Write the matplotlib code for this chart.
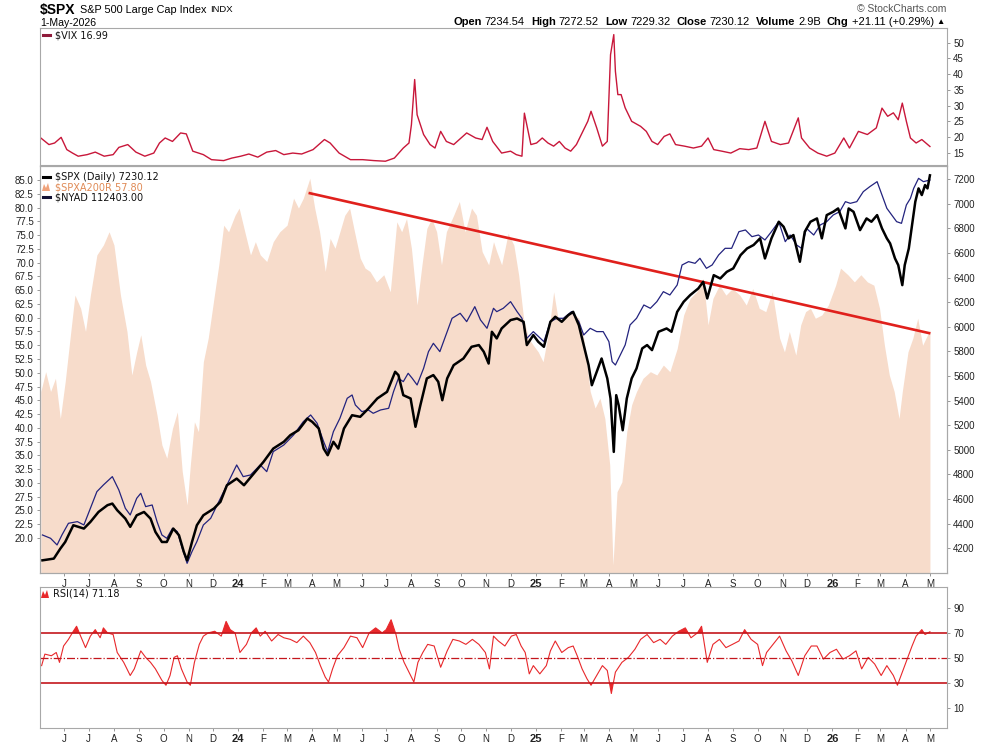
import matplotlib
matplotlib.use("Agg")
import matplotlib.pyplot as plt
import matplotlib.ticker as mticker
from matplotlib.lines import Line2D
from matplotlib.patches import Polygon
import numpy as np
import pandas as pd

# ---- data ----
spx_dates = ["2023-05-05", "2023-05-19", "2023-05-27", "2023-06-02", "2023-06-12", "2023-06-25", "2023-07-03",
             "2023-07-13", "2023-07-24", "2023-07-30", "2023-08-05", "2023-08-15", "2023-08-21", "2023-08-29",
             "2023-09-07", "2023-09-15", "2023-09-21", "2023-09-29", "2023-10-05", "2023-10-13", "2023-10-20",
             "2023-10-26", "2023-10-30", "2023-11-05", "2023-11-11", "2023-11-19", "2023-12-02", "2023-12-10",
             "2023-12-18", "2023-12-30", "2024-01-08", "2024-01-20", "2024-02-01", "2024-02-13", "2024-02-26",
             "2024-03-05", "2024-03-15", "2024-03-26", "2024-04-01", "2024-04-09", "2024-04-15", "2024-04-20",
             "2024-04-27", "2024-05-03", "2024-05-10", "2024-05-20", "2024-05-30", "2024-06-09", "2024-06-20",
             "2024-07-02", "2024-07-12", "2024-07-16", "2024-07-22", "2024-07-31", "2024-08-06", "2024-08-12",
             "2024-08-20", "2024-08-28", "2024-09-03", "2024-09-08", "2024-09-14", "2024-09-22", "2024-10-04",
             "2024-10-14", "2024-10-23", "2024-10-29", "2024-11-04", "2024-11-08", "2024-11-14", "2024-11-20",
             "2024-12-01", "2024-12-09", "2024-12-17", "2024-12-21", "2024-12-29", "2025-01-04", "2025-01-11",
             "2025-01-19", "2025-01-25", "2025-02-02", "2025-02-10", "2025-02-16", "2025-02-23", "2025-03-01",
             "2025-03-07", "2025-03-11", "2025-03-17", "2025-03-23", "2025-03-30", "2025-04-03", "2025-04-07",
             "2025-04-10", "2025-04-13", "2025-04-18", "2025-04-23", "2025-04-29", "2025-05-05", "2025-05-12",
             "2025-05-18", "2025-05-24", "2025-06-01", "2025-06-11", "2025-06-17", "2025-06-24", "2025-07-02",
             "2025-07-10", "2025-07-20", "2025-07-26", "2025-07-31", "2025-08-08", "2025-08-16", "2025-08-24",
             "2025-09-01", "2025-09-10", "2025-09-18", "2025-09-26", "2025-10-04", "2025-10-10", "2025-10-18",
             "2025-10-27", "2025-11-02", "2025-11-08", "2025-11-14", "2025-11-22", "2025-11-28", "2025-12-05",
             "2025-12-13", "2025-12-19", "2025-12-25", "2026-01-02", "2026-01-08", "2026-01-17", "2026-01-21",
             "2026-01-27", "2026-02-04", "2026-02-12", "2026-02-18", "2026-02-25", "2026-03-03", "2026-03-09",
             "2026-03-13", "2026-03-19", "2026-03-23", "2026-03-28", "2026-03-31", "2026-04-05", "2026-04-09",
             "2026-04-13", "2026-04-17", "2026-04-21", "2026-04-25", "2026-04-28", "2026-05-01"]
spx_close = [4102, 4116, 4197, 4251, 4387, 4360, 4414, 4495, 4550, 4563, 4509, 4441, 4374, 4468,
             4495, 4441, 4333, 4251, 4251, 4360, 4306, 4170, 4102, 4251, 4387, 4468, 4523, 4577,
             4712, 4766, 4712, 4807, 4902, 5010, 5065, 5119, 5159, 5254, 5227, 5173, 5010, 4956,
             5065, 5010, 5173, 5281, 5268, 5335, 5417, 5471, 5634, 5607, 5444, 5417, 5187, 5362,
             5580, 5607, 5553, 5403, 5580, 5688, 5742, 5837, 5851, 5797, 5701, 5959, 5905, 5986,
             6054, 6067, 6040, 5851, 5932, 5878, 5837, 6040, 6081, 6040, 6094, 6121, 6013, 5851,
             5688, 5525, 5634, 5742, 5580, 5417, 4983, 5444, 5362, 5159, 5417, 5580, 5661, 5824,
             5851, 5810, 5959, 5986, 5959, 6121, 6203, 6257, 6311, 6365, 6230, 6419, 6392, 6446,
             6474, 6582, 6636, 6664, 6718, 6555, 6718, 6853, 6812, 6718, 6745, 6528, 6772, 6853,
             6880, 6718, 6907, 6934, 6961, 6799, 6961, 6934, 6785, 6880, 6853, 6907, 6799, 6718,
             6677, 6555, 6501, 6338, 6501, 6636, 6826, 7016, 7124, 7070, 7151, 7124, 7230.12]

nyad_dates = ["2023-05-05", "2023-05-15", "2023-05-23", "2023-05-29", "2023-06-06", "2023-06-17", "2023-06-25",
              "2023-07-03", "2023-07-11", "2023-07-19", "2023-07-30", "2023-08-07", "2023-08-15", "2023-08-21",
              "2023-08-29", "2023-09-03", "2023-09-09", "2023-09-17", "2023-09-23", "2023-09-29", "2023-10-05",
              "2023-10-12", "2023-10-18", "2023-10-24", "2023-10-30", "2023-11-05", "2023-11-11", "2023-11-19",
              "2023-11-28", "2023-12-06", "2023-12-14", "2023-12-22", "2023-12-30", "2024-01-07", "2024-01-16",
              "2024-01-28", "2024-02-05", "2024-02-13", "2024-02-26", "2024-03-09", "2024-03-21", "2024-03-30",
              "2024-04-07", "2024-04-15", "2024-04-20", "2024-04-27", "2024-05-05", "2024-05-14", "2024-05-20",
              "2024-05-24", "2024-06-01", "2024-06-09", "2024-06-15", "2024-06-24", "2024-07-04", "2024-07-10",
              "2024-07-16", "2024-07-22", "2024-07-28", "2024-08-02", "2024-08-08", "2024-08-16", "2024-08-22",
              "2024-08-28", "2024-09-05", "2024-09-11", "2024-09-20", "2024-09-30", "2024-10-08", "2024-10-18",
              "2024-10-25", "2024-11-02", "2024-11-10", "2024-11-14", "2024-11-22", "2024-12-01", "2024-12-09",
              "2024-12-15", "2024-12-21", "2024-12-29", "2025-01-11", "2025-01-19", "2025-01-27", "2025-02-04",
              "2025-02-14", "2025-02-23", "2025-03-01", "2025-03-09", "2025-03-17", "2025-03-25", "2025-04-01",
              "2025-04-05", "2025-04-09", "2025-04-15", "2025-04-21", "2025-04-27", "2025-05-05", "2025-05-14",
              "2025-05-22", "2025-05-30", "2025-06-07", "2025-06-15", "2025-06-24", "2025-06-30", "2025-07-08",
              "2025-07-16", "2025-07-22", "2025-07-30", "2025-08-06", "2025-08-14", "2025-08-22", "2025-08-30",
              "2025-09-08", "2025-09-16", "2025-09-24", "2025-10-02", "2025-10-10", "2025-10-18", "2025-10-27",
              "2025-11-04", "2025-11-10", "2025-11-18", "2025-11-24", "2025-11-30", "2025-12-09", "2025-12-17",
              "2025-12-25", "2026-01-02", "2026-01-10", "2026-01-17", "2026-01-23", "2026-01-31", "2026-02-08",
              "2026-02-16", "2026-02-25", "2026-03-03", "2026-03-09", "2026-03-15", "2026-03-21", "2026-03-27",
              "2026-04-02", "2026-04-07", "2026-04-11", "2026-04-17", "2026-04-23", "2026-05-01"]
nyad_values = [76906, 76573, 75907, 76906, 78073, 78240, 77906, 79573, 81240, 81906, 82740, 81406, 79573, 78906,
               80573, 81073, 79740, 79906, 78240, 76906, 76573, 77573, 77240, 75573, 74073, 75240, 76240, 77906,
               78573, 79906, 81240, 82573, 83906, 82740, 82906, 83906, 83240, 85240, 85906, 86906, 88240, 88906,
               88073, 86240, 85240, 87240, 88573, 90573, 90906, 89906, 89240, 89406, 89073, 89406, 89573, 91240,
               92573, 92240, 93073, 92573, 91906, 93573, 95240, 96073, 95240, 96573, 98573, 99073, 98240, 99738,
               98406, 97573, 99573, 99238, 99573, 100238, 99238, 98573, 96573, 97240, 96240, 98240, 98573, 98573,
               99238, 98240, 96906, 97573, 97240, 97240, 96240, 94238, 93905, 94904, 95905, 97905, 98573, 99905,
               99573, 100238, 101238, 100904, 101904, 103904, 104238, 104071, 104571, 103571, 103904, 104904,
               105571, 105571, 107237, 107404, 106737, 106904, 106404, 107237, 108237, 106237, 106904, 105904,
               105571, 107570, 106904, 107904, 108237, 108903, 109237, 110237, 110070, 110237, 111237, 111737,
               112237, 110903, 109570, 108903, 108237, 108070, 109903, 110570, 111570, 112570, 112237, 112403]

breadth_dates = ["2023-05-03", "2023-05-09", "2023-05-15", "2023-05-21", "2023-05-27", "2023-06-02", "2023-06-08",
                 "2023-06-14", "2023-06-21", "2023-06-27", "2023-07-03", "2023-07-11", "2023-07-19", "2023-07-26",
                 "2023-08-01", "2023-08-09", "2023-08-17", "2023-08-23", "2023-08-29", "2023-09-03", "2023-09-09",
                 "2023-09-15", "2023-09-23", "2023-09-29", "2023-10-05", "2023-10-12", "2023-10-18", "2023-10-24",
                 "2023-10-30", "2023-11-03", "2023-11-08", "2023-11-13", "2023-11-19", "2023-11-25", "2023-12-02",
                 "2023-12-08", "2023-12-14", "2023-12-20", "2023-12-28", "2024-01-02", "2024-01-09", "2024-01-16",
                 "2024-01-22", "2024-01-28", "2024-02-05", "2024-02-13", "2024-02-21", "2024-03-01", "2024-03-09",
                 "2024-03-15", "2024-03-21", "2024-03-29", "2024-04-04", "2024-04-10", "2024-04-17", "2024-04-23",
                 "2024-04-29", "2024-05-05", "2024-05-11", "2024-05-17", "2024-05-23", "2024-05-30", "2024-06-05",
                 "2024-06-11", "2024-06-19", "2024-06-28", "2024-07-06", "2024-07-14", "2024-07-20", "2024-07-26",
                 "2024-08-01", "2024-08-08", "2024-08-14", "2024-08-20", "2024-08-26", "2024-09-01", "2024-09-07",
                 "2024-09-13", "2024-09-22", "2024-09-29", "2024-10-06", "2024-10-14", "2024-10-20", "2024-10-27",
                 "2024-11-04", "2024-11-10", "2024-11-14", "2024-11-20", "2024-11-28", "2024-12-05", "2024-12-11",
                 "2024-12-17", "2024-12-23", "2024-12-29", "2025-01-04", "2025-01-10", "2025-01-17", "2025-01-23",
                 "2025-01-29", "2025-02-06", "2025-02-14", "2025-02-23", "2025-03-01", "2025-03-09", "2025-03-15",
                 "2025-03-21", "2025-03-27", "2025-04-02", "2025-04-06", "2025-04-11", "2025-04-17", "2025-04-23",
                 "2025-04-29", "2025-05-05", "2025-05-13", "2025-05-22", "2025-05-30", "2025-06-07", "2025-06-15",
                 "2025-06-24", "2025-07-02", "2025-07-10", "2025-07-18", "2025-07-26", "2025-08-01", "2025-08-07",
                 "2025-08-15", "2025-08-23", "2025-08-31", "2025-09-09", "2025-09-17", "2025-09-25", "2025-10-03",
                 "2025-10-11", "2025-10-19", "2025-10-28", "2025-11-03", "2025-11-09", "2025-11-17", "2025-11-23",
                 "2025-11-29", "2025-12-05", "2025-12-11", "2025-12-19", "2025-12-27", "2026-01-05", "2026-01-11",
                 "2026-01-20", "2026-01-28", "2026-02-05", "2026-02-13", "2026-02-21", "2026-02-28", "2026-03-06",
                 "2026-03-12", "2026-03-18", "2026-03-24", "2026-03-28", "2026-04-04", "2026-04-10", "2026-04-16",
                 "2026-04-22", "2026-05-01"]
breadth_pct = [46.6, 50.2, 46.6, 49.0, 41.7, 48.4, 56.3, 64.1, 61.7, 57.5, 64.1, 71.4, 73.2, 75.6,
               73.2, 64.1, 57.5, 49.6, 53.8, 56.9, 51.4, 48.4, 42.3, 36.9, 34.5, 39.9, 42.9, 32.1,
               26.0, 33.3, 41.1, 39.3, 52.0, 56.3, 63.5, 69.6, 76.8, 75.6, 78.6, 79.9, 75.6, 71.4,
               73.8, 71.4, 70.2, 73.8, 75.6, 76.8, 81.7, 79.9, 81.7, 85.3, 79.9, 75.6, 68.4, 74.4,
               72.6, 75.6, 78.6, 79.9, 75.6, 70.8, 69.0, 68.4, 66.5, 67.8, 64.7, 77.4, 75.6, 78.0,
               72.6, 62.3, 69.6, 76.2, 78.0, 75.6, 69.6, 75.6, 78.6, 81.1, 75.6, 79.9, 78.6, 72.0,
               69.6, 73.8, 72.0, 69.6, 75.3, 73.2, 67.7, 59.9, 56.3, 55.0, 53.8, 52.0, 57.5, 64.7,
               59.3, 60.5, 61.1, 59.9, 56.3, 46.6, 43.6, 45.4, 41.7, 33.3, 15.1, 28.4, 30.2, 39.3,
               44.2, 46.6, 49.0, 50.2, 49.6, 51.4, 50.2, 54.4, 60.5, 63.5, 64.7, 67.1, 58.7, 63.5,
               65.9, 64.1, 65.3, 64.1, 62.3, 65.3, 61.7, 61.1, 64.7, 56.3, 53.8, 57.5, 53.2, 58.7,
               61.1, 61.7, 59.9, 60.5, 62.3, 65.9, 69.0, 67.8, 66.5, 67.8, 66.5, 65.9, 61.7, 55.0,
               49.6, 46.6, 41.7, 46.6, 53.8, 56.3, 59.9, 55.0, 57.8]

trend_dates = ["2024-03-29", "2026-04-30"]
trend_values = [82.6, 57.2]

vix_dates = ["2023-05-03", "2023-05-13", "2023-05-20", "2023-05-28", "2023-06-04", "2023-06-11", "2023-06-18",
             "2023-06-29", "2023-07-09", "2023-07-20", "2023-07-31", "2023-08-07", "2023-08-18", "2023-08-28",
             "2023-09-08", "2023-09-19", "2023-09-26", "2023-10-03", "2023-10-12", "2023-10-22", "2023-10-29",
             "2023-11-06", "2023-11-19", "2023-11-29", "2023-12-14", "2023-12-24", "2024-01-04", "2024-01-14",
             "2024-01-25", "2024-02-05", "2024-02-16", "2024-02-26", "2024-03-08", "2024-03-19", "2024-04-02",
             "2024-04-09", "2024-04-16", "2024-04-23", "2024-05-04", "2024-05-18", "2024-06-02", "2024-06-16",
             "2024-06-30", "2024-07-11", "2024-07-22", "2024-07-29", "2024-08-01", "2024-08-05", "2024-08-08",
             "2024-08-16", "2024-08-24", "2024-08-30", "2024-09-06", "2024-09-13", "2024-09-22", "2024-10-01",
             "2024-10-08", "2024-10-19", "2024-10-27", "2024-11-02", "2024-11-09", "2024-11-20", "2024-12-01",
             "2024-12-08", "2024-12-15", "2024-12-18", "2024-12-26", "2025-01-02", "2025-01-09", "2025-01-16",
             "2025-01-23", "2025-01-30", "2025-02-06", "2025-02-13", "2025-02-20", "2025-02-27", "2025-03-06",
             "2025-03-10", "2025-03-17", "2025-03-24", "2025-03-30", "2025-04-03", "2025-04-07", "2025-04-09",
             "2025-04-12", "2025-04-16", "2025-04-21", "2025-04-29", "2025-05-10", "2025-05-17", "2025-05-24",
             "2025-05-31", "2025-06-08", "2025-06-15", "2025-06-22", "2025-07-03", "2025-07-14", "2025-07-24",
             "2025-08-01", "2025-08-08", "2025-08-18", "2025-08-29", "2025-09-09", "2025-09-20", "2025-09-30",
             "2025-10-10", "2025-10-18", "2025-10-29", "2025-11-08", "2025-11-20", "2025-11-24", "2025-12-04",
             "2025-12-14", "2025-12-25", "2026-01-04", "2026-01-15", "2026-01-22", "2026-02-02", "2026-02-13",
             "2026-02-24", "2026-03-03", "2026-03-10", "2026-03-17", "2026-03-23", "2026-03-28", "2026-04-02",
             "2026-04-07", "2026-04-14", "2026-04-21", "2026-05-01"]
vix_close = [19.7, 17.6, 18.1, 19.9, 16.0, 14.9, 13.9, 14.4, 15.2, 13.9, 14.4, 16.7, 17.6, 15.2,
             13.9, 14.9, 18.1, 19.7, 18.6, 21.3, 21.0, 15.5, 14.4, 12.8, 12.5, 13.3, 13.9, 14.6,
             13.6, 15.2, 15.7, 14.4, 14.9, 14.6, 16.0, 17.6, 19.2, 18.1, 14.9, 12.8, 12.8, 12.5,
             12.3, 13.3, 16.5, 18.1, 23.9, 38.3, 27.1, 20.8, 17.6, 16.5, 21.8, 18.6, 17.6, 19.7,
             21.3, 19.7, 19.2, 23.1, 18.6, 14.9, 15.5, 14.4, 13.9, 27.6, 17.6, 18.1, 19.7, 18.1,
             17.1, 18.6, 16.5, 15.5, 17.6, 21.3, 25.0, 28.2, 22.9, 17.1, 18.6, 46.2, 52.6, 40.9,
             33.5, 33.5, 29.3, 25.0, 23.4, 21.8, 18.6, 17.6, 20.2, 21.0, 17.6, 17.1, 16.5, 17.1,
             19.7, 16.0, 15.5, 14.9, 16.3, 16.0, 16.5, 25.0, 18.6, 17.6, 18.1, 26.1, 19.7, 16.5,
             14.9, 13.9, 14.9, 19.7, 16.5, 21.8, 20.8, 22.9, 29.2, 26.6, 27.7, 25.5, 30.8, 25.0,
             19.7, 18.1, 19.2, 16.99]

rsi_dates = ["2023-05-04", "2023-05-08", "2023-05-16", "2023-05-22", "2023-05-26", "2023-05-31", "2023-06-06",
             "2023-06-12", "2023-06-16", "2023-06-21", "2023-06-27", "2023-07-03", "2023-07-09", "2023-07-15",
             "2023-07-19", "2023-07-24", "2023-07-31", "2023-08-05", "2023-08-13", "2023-08-21", "2023-08-26",
             "2023-09-03", "2023-09-09", "2023-09-15", "2023-09-21", "2023-09-29", "2023-10-04", "2023-10-09",
             "2023-10-14", "2023-10-18", "2023-10-23", "2023-10-30", "2023-11-03", "2023-11-08", "2023-11-14",
             "2023-11-19", "2023-11-25", "2023-12-03", "2023-12-11", "2023-12-17", "2023-12-22", "2023-12-28",
             "2024-01-03", "2024-01-11", "2024-01-17", "2024-01-23", "2024-01-28", "2024-02-03", "2024-02-11",
             "2024-02-19", "2024-02-26", "2024-03-05", "2024-03-13", "2024-03-21", "2024-03-29", "2024-04-05",
             "2024-04-11", "2024-04-17", "2024-04-21", "2024-04-26", "2024-05-02", "2024-05-10", "2024-05-18",
             "2024-05-26", "2024-06-02", "2024-06-10", "2024-06-18", "2024-06-26", "2024-07-01", "2024-07-07",
             "2024-07-13", "2024-07-17", "2024-07-23", "2024-07-29", "2024-08-04", "2024-08-09", "2024-08-15",
             "2024-08-21", "2024-08-29", "2024-09-06", "2024-09-14", "2024-09-21", "2024-09-29", "2024-10-07",
             "2024-10-15", "2024-10-23", "2024-10-31", "2024-11-05", "2024-11-10", "2024-11-16", "2024-11-24",
             "2024-12-02", "2024-12-08", "2024-12-14", "2024-12-19", "2024-12-24", "2024-12-29", "2025-01-06",
             "2025-01-14", "2025-01-19", "2025-01-25", "2025-02-02", "2025-02-10", "2025-02-16", "2025-02-21",
             "2025-02-27", "2025-03-05", "2025-03-10", "2025-03-17", "2025-03-24", "2025-03-30", "2025-04-04",
             "2025-04-09", "2025-04-17", "2025-04-25", "2025-05-03", "2025-05-10", "2025-05-18", "2025-05-26",
             "2025-06-03", "2025-06-10", "2025-06-18", "2025-06-26", "2025-07-04", "2025-07-11", "2025-07-19",
             "2025-07-24", "2025-07-31", "2025-08-07", "2025-08-15", "2025-08-23", "2025-08-31", "2025-09-08",
             "2025-09-15", "2025-09-23", "2025-10-01", "2025-10-07", "2025-10-12", "2025-10-20", "2025-10-28",
             "2025-11-05", "2025-11-12", "2025-11-20", "2025-11-28", "2025-12-06", "2025-12-13", "2025-12-21",
             "2025-12-29", "2026-01-06", "2026-01-14", "2026-01-22", "2026-01-30", "2026-02-06", "2026-02-14",
             "2026-02-22", "2026-03-02", "2026-03-09", "2026-03-17", "2026-03-22", "2026-03-28", "2026-04-03",
             "2026-04-09", "2026-04-14", "2026-04-21", "2026-04-25", "2026-05-01"]
rsi_values = [44.1, 53.3, 52.0, 54.6, 46.7, 59.8, 65.1, 71.6, 75.6, 67.7, 58.5, 67.7, 72.9, 66.4,
              74.3, 70.3, 69.0, 54.6, 46.7, 36.2, 41.5, 55.9, 50.7, 46.7, 41.5, 32.3, 28.4, 36.2,
              50.7, 52.0, 41.5, 31.0, 28.4, 46.7, 61.1, 67.7, 70.3, 71.6, 67.7, 79.5, 72.9, 70.3,
              54.6, 61.1, 70.3, 74.3, 67.7, 71.6, 63.8, 69.0, 66.4, 65.1, 62.5, 67.7, 62.5, 54.6,
              44.1, 34.9, 31.0, 41.5, 52.0, 58.5, 67.7, 66.4, 58.5, 70.3, 74.3, 70.3, 72.9, 80.8,
              69.0, 57.2, 46.7, 38.9, 31.0, 46.7, 54.6, 61.1, 59.8, 42.8, 55.9, 65.1, 63.8, 61.1,
              65.1, 61.1, 54.6, 41.5, 67.7, 63.8, 59.8, 67.7, 69.0, 59.8, 54.6, 37.5, 44.1, 37.5,
              44.1, 55.9, 63.8, 54.6, 58.5, 59.8, 52.0, 41.5, 33.6, 28.4, 36.2, 44.1, 40.2, 21.8,
              38.9, 46.7, 50.7, 57.2, 65.1, 69.0, 62.5, 65.1, 61.1, 67.7, 71.6, 74.3, 66.4, 70.3,
              75.6, 46.7, 61.1, 65.1, 58.5, 61.1, 63.8, 72.9, 65.1, 61.1, 44.1, 54.6, 61.1, 67.7,
              55.9, 48.0, 36.2, 52.0, 59.8, 59.8, 49.3, 54.6, 57.2, 49.3, 52.0, 55.9, 41.5, 50.7,
              45.4, 36.2, 44.1, 36.2, 28.4, 38.9, 49.3, 59.8, 67.7, 72.9, 69.0, 71.18]

vix_ticks = [15, 20, 25, 30, 35, 40, 45, 50]
breadth_ticks = np.arange(20.0, 85.1, 2.5)
spx_ticks = list(range(4200, 7201, 200))
rsi_ticks = [10, 30, 50, 70, 90]

# ---- figure, pixel based layout ----
W, H = 990, 744
fig = plt.figure(figsize=(W / 100, H / 100), dpi=100)
fig.patch.set_facecolor("white")


def box(x0, y0, x1, y1):
    return [x0 / W, 1 - y1 / H, (x1 - x0) / W, (y1 - y0) / H]


def fx(x):
    return x / W


def fy(y):
    return 1 - y / H


ax_vix = fig.add_axes(box(40, 28, 947, 165))
ax_main = fig.add_axes(box(40, 166, 947, 573))
ax_rsi = fig.add_axes(box(40, 587, 947, 728))

xmin, xmax = pd.Timestamp("2023-05-02"), pd.Timestamp("2026-05-22")
months = pd.date_range("2023-06-01", "2026-05-01", freq="MS")
month_labels = [f"{d:%y}" if d.month == 1 else "JFMAMJJASOND"[d.month - 1] for d in months]

tick_font = {"family": ["Liberation Sans", "DejaVu Sans"], "size": 7}
border = "#a8a8a8"


def style(ax):
    for s in ax.spines.values():
        s.set_color(border)
        s.set_linewidth(0.8)
    ax.set_xlim(xmin, xmax)
    ax.tick_params(colors="#888888", labelcolor="#222222", length=2.5, width=0.6, pad=2)


# ---- VIX panel ----
style(ax_vix)
ax_vix.plot(pd.to_datetime(vix_dates), vix_close, color="#c8173a", lw=1.0)
ax_vix.set_ylim(11.1, 54.7)
ax_vix.yaxis.tick_right()
ax_vix.set_yticks(vix_ticks)
ax_vix.set_yticklabels([str(v) for v in vix_ticks], fontdict=tick_font)
ax_vix.set_xticks(months)
ax_vix.tick_params(axis="x", length=0, labelbottom=False)

# ---- main panel: breadth area (left), NYAD (hidden), SPX (right) ----
style(ax_main)
bottom = 13.65
ax_main.fill_between(pd.to_datetime(breadth_dates), breadth_pct, bottom, color="#f7dccb", lw=0)
ax_main.plot(pd.to_datetime(trend_dates), trend_values, color="#e0201c", lw=1.9, zorder=3)
ax_main.set_ylim(bottom, 87.54)
ax_main.set_yticks(breadth_ticks)
ax_main.set_yticklabels([f"{v:.1f}" for v in breadth_ticks], fontdict=tick_font)

ax_nyad = ax_main.twinx()
ax_nyad.plot(pd.to_datetime(nyad_dates), nyad_values, color="#23237e", lw=0.9)
ax_nyad.set_ylim(73103, 113803)
ax_nyad.set_yticks([])
for s in ax_nyad.spines.values():
    s.set_visible(False)

ax_spx = ax_main.twinx()
style(ax_spx)
ax_spx.plot(pd.to_datetime(spx_dates), spx_close, color="black", lw=1.8)
ax_spx.set_ylim(3999, 7306)
ax_spx.set_yticks(spx_ticks)
ax_spx.set_yticklabels([str(v) for v in spx_ticks], fontdict=tick_font)

# ---- RSI panel ----
style(ax_rsi)
rd = pd.to_datetime(rsi_dates)
rv = np.array(rsi_values)
ax_rsi.fill_between(rd, rv, 70, where=rv >= 70, interpolate=True, color="#e8282b", lw=0)
ax_rsi.fill_between(rd, rv, 30, where=rv <= 30, interpolate=True, color="#e8282b", lw=0)
ax_rsi.plot(rd, rv, color="#e8282b", lw=0.8)
for lvl in (70, 30):
    ax_rsi.axhline(lvl, color="#c4161c", lw=1.2)
ax_rsi.axhline(50, color="#c4161c", lw=0.9, ls="-.")
ax_rsi.set_ylim(-5.8, 107)
ax_rsi.yaxis.tick_right()
ax_rsi.set_yticks(rsi_ticks)
ax_rsi.set_yticklabels([str(v) for v in rsi_ticks], fontdict=tick_font)

for ax in (ax_main, ax_rsi):
    ax.set_xticks(months)
    ax.set_xticklabels(month_labels, fontdict=tick_font)
    for lab, d in zip(ax.get_xticklabels(), months):
        if d.month == 1:
            lab.set_fontweight("bold")
            lab.set_fontsize(8)

# ---- legends inside panels ----
leg_font = {"family": "DejaVu Sans", "size": 7}


def dash(x, y, color):
    fig.add_artist(Line2D([fx(x), fx(x + 7)], [fy(y), fy(y)], color=color, lw=2.2))


def area_icon(x, y, color):
    pts = [(x, y + 4), (x + 2, y - 3), (x + 4, y + 1), (x + 6, y - 4), (x + 8, y + 4)]
    fig.add_artist(Polygon([(fx(a), fy(b)) for a, b in pts], closed=True, color=color, lw=0))


dash(43, 35, "#8e1a3a")
fig.text(fx(55), fy(35), "$VIX 16.99", va="center", color="#111111", **leg_font)

dash(43, 177, "black")
fig.text(fx(55), fy(177), "$SPX (Daily) 7230.12", va="center", color="#111111", **leg_font)
area_icon(42, 187, "#f0a27a")
fig.text(fx(55), fy(187), "$SPXA200R 57.80", va="center", color="#e08a55", **leg_font)
dash(43, 197, "#111133")
fig.text(fx(55), fy(197), "$NYAD 112403.00", va="center", color="#111111", **leg_font)

area_icon(41, 594, "#e8282b")
fig.text(fx(53), fy(594), "RSI(14) 71.18", va="center", color="#111111", **leg_font)

# ---- header ----
renderer = fig.canvas.get_renderer()
hfam = ["Liberation Sans", "DejaVu Sans"]

x = 40.0
for s, size, weight, gap in [("$SPX", 10, "bold", 4), ("S&P 500 Large Cap Index", 7.8, "normal", 4),
                             ("INDX", 6.8, "normal", 0)]:
    t = fig.text(fx(x), fy(10), s, fontsize=size, fontweight=weight, family=hfam, va="center")
    x += t.get_window_extent(renderer).width + gap

fig.text(fx(40), fy(23), "1-May-2026", fontsize=7.6, family=hfam, va="center")
fig.text(fx(946), fy(9), "\u00a9 StockCharts.com", fontsize=7.5, family=hfam, color="#555555",
         va="center", ha="right")

pieces = [("Open", True), ("7234.54", False), ("High", True), ("7272.52", False), ("Low", True),
          ("7229.32", False), ("Close", True), ("7230.12", False), ("Volume", True), ("2.9B", False),
          ("Chg", True), ("+21.11 (+0.29%)", False), ("\u25b2", False)]
x = 945.0
for s, bold in reversed(pieces):
    t = fig.text(fx(x), fy(22), s, fontsize=8 if s != "\u25b2" else 6, family=hfam,
                 fontweight="bold" if bold else "normal", ha="right", va="center")
    w = t.get_window_extent(renderer).width
    x -= w + (3 if not bold else 6)

fig.savefig("out.png", dpi=100)
